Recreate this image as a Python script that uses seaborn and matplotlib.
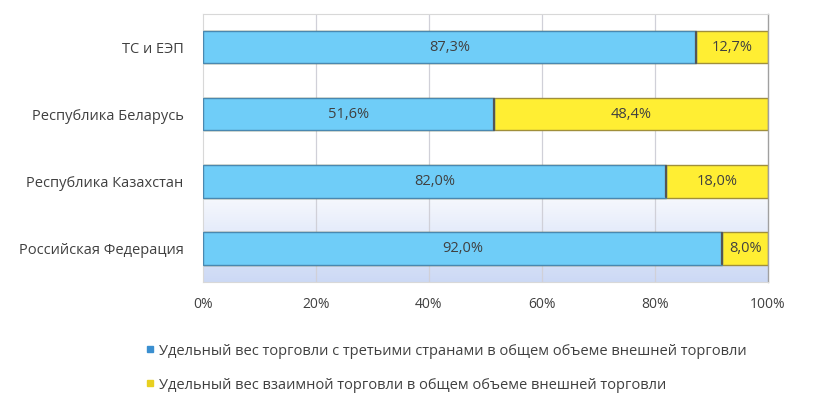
import numpy as np
import pandas as pd
import seaborn as sns
import matplotlib.pyplot as plt
from matplotlib.lines import Line2D

regions = ["ТС и ЕЭП", "Республика Беларусь", "Республика Казахстан", "Российская Федерация"]
third_share = [87.3, 51.6, 82.0, 92.0]
mutual_share = [12.7, 48.4, 18.0, 8.0]
third_label = "Удельный вес торговли с третьими странами в общем объеме внешней торговли"
mutual_label = "Удельный вес взаимной торговли в общем объеме внешней торговли"

sns.set_style("white")
plt.rcParams['font.family'] = ['Open Sans', 'DejaVu Sans']

df = pd.DataFrame({"region": regions, "third": third_share, "mutual": mutual_share})
df["total"] = df["third"] + df["mutual"]

fig = plt.figure(figsize=(8.29, 3.95), dpi=100)
ax = fig.add_axes([0.245, 0.286, 0.681, 0.679])

# background gradient of the plot area (white at top, pale blue at bottom)
grad = np.linspace(0, 1, 256).reshape(-1, 1)
grad = np.clip((grad - 0.62) / 0.38, 0, 1)
c_top = np.array([1.0, 1.0, 1.0])
c_bot = np.array([0.80, 0.85, 0.96])
img = c_top + (c_bot - c_top) * grad[..., None]
ax.imshow(img, extent=[0, 1, 0, 1], transform=ax.transAxes, aspect="auto", zorder=0)

for x in [20, 40, 60, 80]:
    ax.axvline(x, color="#d0d0d8", lw=0.9, zorder=1)

sns.barplot(data=df, x="total", y="region", orient="h", color="#ffee33", saturation=1,
            edgecolor="#a08f3a", linewidth=1.0, width=0.48, ax=ax, zorder=2)
sns.barplot(data=df, x="third", y="region", orient="h", color="#6fcdf8", saturation=1,
            edgecolor="#4a88b0", linewidth=1.0, width=0.48, ax=ax, zorder=3)

for i, (a, b) in enumerate(zip(third_share, mutual_share)):
    ax.text(a / 2, i, f"{a:.1f}%".replace(".", ","), ha="center", va="center",
            fontsize=10.5, color="#404040", zorder=5)
    ax.text(a + b / 2, i, f"{b:.1f}%".replace(".", ","), ha="center", va="center",
            fontsize=10.5, color="#404040", zorder=5)
    ax.plot([a, a], [i - 0.23, i + 0.23], color="#555555", lw=1.6, zorder=4)

ax.set_xlim(0, 100)
ax.set_ylim(3.5, -0.5)
ax.set_xticks([0, 20, 40, 60, 80, 100])
ax.set_xticklabels(["0%", "20%", "40%", "60%", "80%", "100%"], fontsize=10, color="#404040")
ax.tick_params(axis="x", length=0, pad=11)
ax.tick_params(axis="y", length=0, pad=14, labelsize=10.5, labelcolor="#404040")
ax.set_yticks([0.5, 1.5, 2.5], minor=True)
ax.tick_params(axis="y", which="minor", length=3, color="#c8c8c8")
ax.set_xlabel("")
ax.set_ylabel("")
for s in ["top", "left", "bottom"]:
    ax.spines[s].set_color("#d8d8d8")
    ax.spines[s].set_linewidth(0.8)
ax.spines["right"].set_color("#a0a0a0")
ax.spines["right"].set_linewidth(1.0)

handles = [
    Line2D([], [], marker="s", ls="", markersize=5, markerfacecolor="#3a8fd0",
           markeredgecolor="#3a8fd0", label=third_label),
    Line2D([], [], marker="s", ls="", markersize=5, markerfacecolor="#e8d020",
           markeredgecolor="#e8d020", label=mutual_label),
]
fig.legend(handles=handles, loc="lower left", bbox_to_anchor=(0.16, -0.027),
           frameon=False, fontsize=10.5, handlelength=0.6, handletextpad=0.3,
           labelspacing=1.3, labelcolor="#404040")

fig.savefig("out.png", dpi=100)
